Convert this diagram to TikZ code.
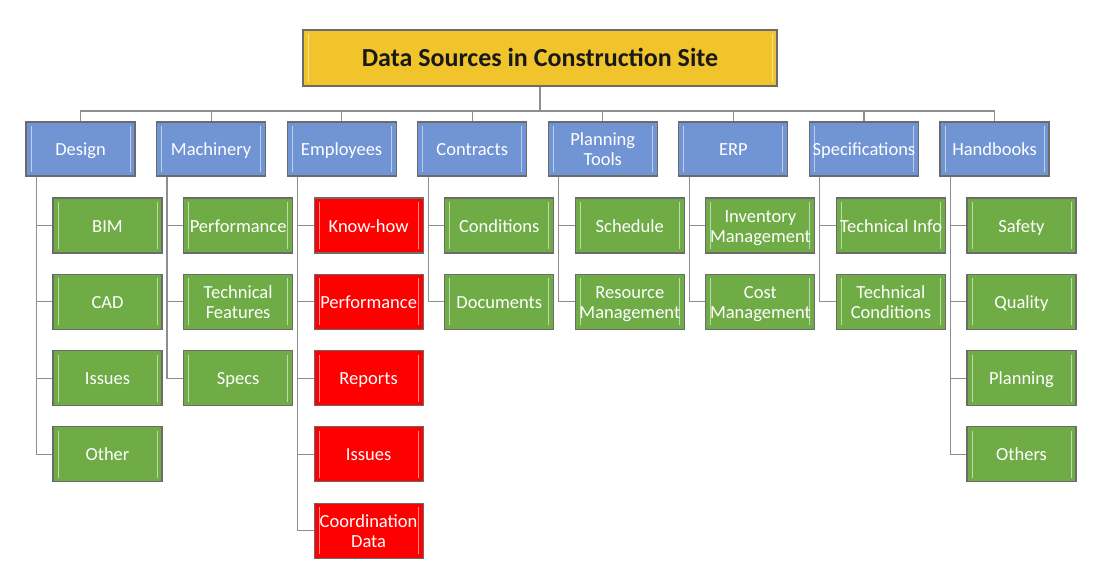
\documentclass[tikz,border=0pt]{standalone}
\usepackage{fontspec}
\setmainfont{Carlito}
\definecolor{pblue}{HTML}{7094D4}
\definecolor{cgreen}{HTML}{6FAC46}
\definecolor{cred}{HTML}{FF0000}
\definecolor{gold}{HTML}{F2C42C}
\definecolor{bordergray}{HTML}{6B6B6B}
\definecolor{conngray}{HTML}{8E8E8E}
\newcommand{\T}[1]{\makebox[0pt]{\raisebox{-2.5pt}[\height][\depth]{\begin{tabular}{@{}c@{}}#1\end{tabular}}}}
\tikzset{
  base/.style={draw=bordergray, line width=1.1pt, minimum width=109pt, minimum height=55pt,
    inner sep=0pt, font=\fontsize{18.5}{20}\selectfont, text=white,
    path picture={
      \draw[white, opacity=0.55, line width=1pt]
        ([xshift=5pt,yshift=4pt]path picture bounding box.south west) -- ([xshift=5pt,yshift=-4pt]path picture bounding box.north west)
        ([xshift=-5pt,yshift=4pt]path picture bounding box.south east) -- ([xshift=-5pt,yshift=-4pt]path picture bounding box.north east);
    }},
  parent/.style={base, fill=pblue, minimum height=54pt},
  child/.style={base, fill=cgreen},
  hot/.style={base, fill=cred},
  titlebox/.style={base, fill=gold, minimum width=474pt, minimum height=56pt, text=black!90,
    font=\fontsize{26}{30}\selectfont\bfseries},
  conn/.style={draw=conngray, line width=1.2pt},
}
\begin{document}
\begin{tikzpicture}[x=1pt,y=-1pt]
\useasboundingbox (0,0) rectangle (1115,583);
\node[titlebox] (root) at (540,58) {\T{Data Sources in Construction Site}};
\coordinate (busy) at (540,111);
% parents
\node[parent] (design) at (80.5,149) {\T{Design}};
\node[parent] (mach)   at (211.1,149) {\T{Machinery}};
\node[parent] (emp)    at (341.6,149) {\T{Employees}};
\node[parent] (contr)  at (472.2,149) {\T{Contracts}};
\node[parent] (plan)   at (602.8,149) {\T{Planning\\Tools}};
\node[parent] (erp)    at (733.4,149) {\T{ERP}};
\node[parent] (spec)   at (863.9,149) {\T{Specifications}};
\node[parent] (hand)   at (994.5,149) {\T{Handbooks}};
\draw[conn] (root.south) -- (busy);
\foreach \p in {design,mach,emp,contr,plan,erp,spec,hand}
  \draw[conn] (\p.north) |- (busy);
% children
\node[child] (bim)    at (107.5,225.5) {\T{BIM}};
\node[child] (cad)    at (107.5,301.8) {\T{CAD}};
\node[child] (dissue) at (107.5,378.1) {\T{Issues}};
\node[child] (dother) at (107.5,454.4) {\T{Other}};

\node[child] (mperf)  at (238.1,225.5) {\T{Performance}};
\node[child] (mtech)  at (238.1,301.8) {\T{Technical\\Features}};
\node[child] (mspecs) at (238.1,378.1) {\T{Specs}};

\node[hot] (know)   at (368.6,225.5) {\T{Know-how}};
\node[hot] (eperf)  at (368.6,301.8) {\T{Performance}};
\node[hot] (erep)   at (368.6,378.1) {\T{Reports}};
\node[hot] (eiss)   at (368.6,454.4) {\T{Issues}};
\node[hot] (ecoord) at (368.6,530.7) {\T{Coordination\\Data}};

\node[child] (cond)   at (499.2,225.5) {\T{Conditions}};
\node[child] (docs)   at (499.2,301.8) {\T{Documents}};

\node[child] (sched)  at (629.8,225.5) {\T{Schedule}};
\node[child] (resm)   at (629.8,301.8) {\T{Resource\\Management}};

\node[child] (inv)    at (760.4,225.5) {\T{Inventory\\Management}};
\node[child] (cost)   at (760.4,301.8) {\T{Cost\\Management}};

\node[child] (tinfo)  at (890.9,225.5) {\T{Technical Info}};
\node[child] (tcond)  at (890.9,301.8) {\T{Technical\\Conditions}};

\node[child] (safe)   at (1021.5,225.5) {\T{Safety}};
\node[child] (qual)   at (1021.5,301.8) {\T{Quality}};
\node[child] (hplan)  at (1021.5,378.1) {\T{Planning}};
\node[child] (hoth)   at (1021.5,454.4) {\T{Others}};
% child connectors
\foreach \c in {bim,cad,dissue,dother} \draw[conn] ([xshift=11pt]design.south west) |- (\c.west);
\foreach \c in {mperf,mtech,mspecs} \draw[conn] ([xshift=11pt]mach.south west) |- (\c.west);
\foreach \c in {know,eperf,erep,eiss,ecoord} \draw[conn] ([xshift=11pt]emp.south west) |- (\c.west);
\foreach \c in {cond,docs} \draw[conn] ([xshift=11pt]contr.south west) |- (\c.west);
\foreach \c in {sched,resm} \draw[conn] ([xshift=11pt]plan.south west) |- (\c.west);
\foreach \c in {inv,cost} \draw[conn] ([xshift=11pt]erp.south west) |- (\c.west);
\foreach \c in {tinfo,tcond} \draw[conn] ([xshift=11pt]spec.south west) |- (\c.west);
\foreach \c in {safe,qual,hplan,hoth} \draw[conn] ([xshift=11pt]hand.south west) |- (\c.west);
\end{tikzpicture}
\end{document}
